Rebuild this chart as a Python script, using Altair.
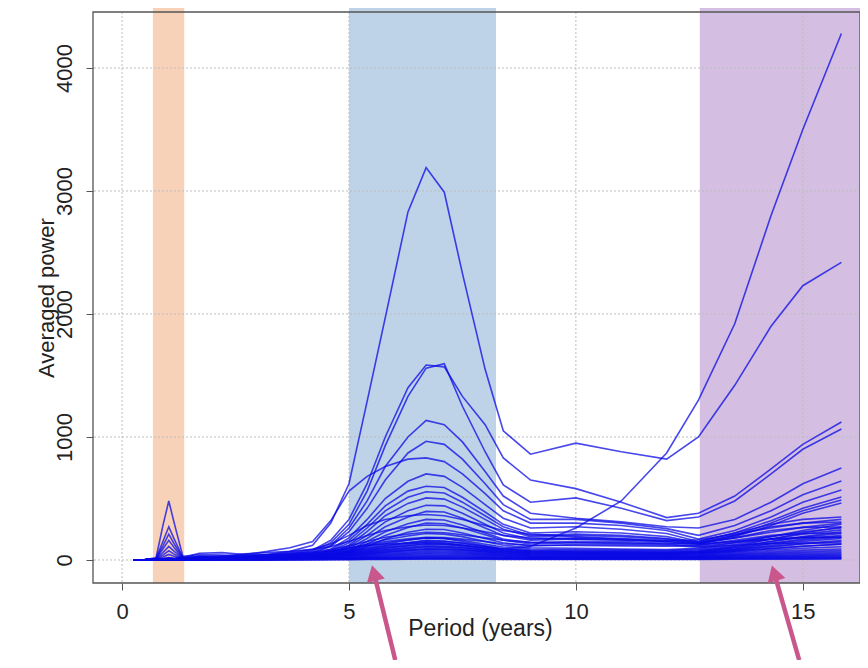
import altair as alt
import pandas as pd

# ---------------- data ----------------
PERIODS = [0.25, 0.5, 0.75, 0.9, 1.03, 1.15, 1.35, 1.7, 2.2, 2.7, 3.2, 3.7, 4.2, 4.6,
           5.0, 5.4, 5.8, 6.3, 6.7, 7.1, 7.5, 8.0, 8.4, 9.0, 10.0, 11.0, 12.0, 12.7,
           13.5, 14.3, 15.0, 15.85]

S01 = [0, 2, 8, 10, 12, 10, 8, 12, 20, 30, 45, 70, 120, 300, 620, 1290, 1970, 2830, 3190, 2990, 2330, 1550, 1050, 860, 950, 880, 820, 1000, 1420, 1900, 2230, 2420]
S02 = [0, 1, 4, 6, 8, 6, 5, 10, 15, 20, 30, 40, 55, 75, 100, 120, 130, 135, 140, 135, 120, 100, 90, 110, 260, 480, 870, 1300, 1920, 2800, 3500, 4280]
S03 = [0, 2, 5, 6, 8, 6, 5, 8, 15, 25, 35, 50, 80, 160, 330, 620, 1000, 1400, 1585, 1570, 1330, 1100, 830, 650, 580, 470, 345, 380, 520, 740, 940, 1122]
S04 = [0, 1, 3, 5, 6, 5, 4, 7, 12, 20, 30, 45, 70, 140, 290, 560, 930, 1330, 1560, 1595, 1250, 880, 610, 470, 505, 420, 320, 350, 480, 700, 900, 1065]
S05 = [0, 1, 3, 4, 5, 4, 4, 6, 10, 18, 25, 40, 60, 120, 260, 480, 760, 1000, 1135, 1100, 960, 720, 520, 380, 340, 310, 270, 260, 330, 470, 620, 748]
S06 = [0, 1, 2, 3, 4, 3, 3, 5, 9, 15, 22, 35, 55, 110, 230, 420, 650, 870, 965, 940, 820, 620, 450, 330, 330, 300, 255, 200, 280, 400, 530, 642]
S07 = [0, 2, 5, 8, 10, 8, 6, 12, 25, 45, 70, 100, 150, 320, 560, 680, 760, 820, 830, 800, 700, 540, 400, 300, 300, 280, 240, 170, 240, 350, 470, 569]
S08 = [0, 1, 2, 3, 4, 3, 3, 5, 8, 12, 18, 28, 45, 90, 180, 330, 500, 640, 700, 680, 590, 450, 340, 260, 270, 250, 215, 150, 220, 320, 420, 512]
S09 = [0, 1, 2, 2, 3, 2, 2, 4, 7, 10, 15, 24, 40, 80, 160, 290, 440, 560, 600, 590, 510, 390, 290, 220, 230, 220, 190, 140, 200, 300, 400, 488]
S10 = [0, 0, 1, 2, 3, 2, 2, 4, 6, 9, 14, 22, 36, 70, 140, 260, 400, 510, 555, 545, 470, 360, 270, 200, 210, 200, 175, 130, 190, 280, 380, 463]
S11 = [0, 0, 1, 2, 2, 2, 2, 3, 6, 8, 12, 20, 32, 60, 120, 230, 360, 460, 505, 495, 430, 330, 250, 190, 200, 190, 170, 150, 220, 290, 330, 350]
S12 = [0, 0, 1, 1, 2, 1, 1, 3, 5, 8, 11, 18, 28, 55, 110, 200, 310, 400, 445, 440, 380, 290, 220, 170, 180, 175, 160, 140, 200, 270, 300, 309]
S13 = [0, 0, 1, 1, 2, 1, 1, 3, 5, 7, 10, 16, 25, 48, 95, 175, 270, 350, 395, 390, 340, 260, 200, 160, 170, 165, 150, 130, 180, 240, 265, 268]
S14 = [0, 0, 0, 1, 1, 1, 1, 2, 4, 6, 9, 14, 22, 40, 80, 150, 230, 295, 330, 325, 285, 220, 170, 140, 150, 150, 140, 120, 160, 200, 215, 220]
S15 = [0, 0, 0, 1, 1, 1, 1, 2, 4, 6, 8, 12, 20, 36, 70, 130, 200, 265, 300, 295, 260, 205, 160, 130, 140, 140, 130, 110, 140, 170, 185, 187]
S16 = [0, 0, 0, 1, 1, 1, 1, 2, 3, 5, 7, 11, 18, 32, 60, 110, 170, 225, 250, 248, 220, 175, 140, 115, 125, 125, 120, 105, 120, 135, 138, 138]
S17 = [0, 1, 3, 5, 8, 6, 20, 55, 60, 45, 40, 60, 90, 130, 200, 280, 330, 360, 370, 360, 330, 280, 240, 210, 190, 170, 150, 130, 150, 170, 180, 185]

L01 = [0, 4, 18, 280, 480, 300, 14, 28, 24, 18, 22, 30, 40, 55, 75, 100, 130, 160, 180, 175, 150, 115, 90, 75, 70, 68, 62, 70, 110, 170, 220, 268]
L02 = [0, 3, 14, 150, 270, 170, 12, 25, 20, 16, 20, 26, 35, 48, 65, 90, 115, 140, 160, 155, 135, 105, 82, 70, 65, 60, 58, 65, 100, 150, 190, 230]
L03 = [0, 3, 12, 115, 210, 130, 10, 22, 18, 14, 18, 24, 32, 44, 60, 80, 105, 128, 145, 140, 122, 95, 75, 62, 58, 55, 52, 60, 90, 135, 170, 200]
L04 = [0, 2, 10, 90, 160, 100, 9, 20, 16, 12, 16, 22, 28, 40, 55, 72, 95, 115, 130, 126, 110, 85, 68, 56, 52, 50, 48, 55, 82, 120, 150, 175]
L05 = [0, 2, 8, 60, 110, 70, 8, 18, 14, 11, 14, 20, 26, 36, 50, 65, 85, 103, 118, 114, 100, 78, 62, 50, 47, 45, 44, 50, 75, 105, 130, 150]
L06 = [0, 2, 6, 40, 75, 48, 7, 15, 12, 10, 12, 18, 23, 32, 44, 58, 76, 92, 105, 102, 90, 70, 55, 45, 42, 40, 40, 45, 68, 92, 112, 128]
L07 = [0, 1, 5, 25, 45, 30, 6, 12, 10, 8, 10, 15, 20, 28, 38, 50, 66, 80, 92, 90, 80, 62, 50, 40, 38, 36, 36, 40, 60, 80, 95, 108]
L08 = [0, 1, 4, 12, 20, 14, 5, 10, 9, 7, 9, 13, 18, 25, 34, 44, 58, 70, 80, 78, 70, 55, 45, 36, 34, 33, 33, 36, 52, 68, 80, 90]
L09 = [0, 1, 3, 8, 12, 9, 4, 9, 8, 6, 8, 12, 16, 22, 30, 38, 50, 60, 70, 68, 62, 50, 40, 32, 30, 30, 30, 32, 45, 58, 68, 76]
L10 = [0, 1, 3, 6, 9, 7, 4, 8, 7, 6, 7, 10, 14, 19, 26, 33, 43, 52, 60, 58, 54, 44, 36, 29, 27, 27, 27, 29, 40, 50, 58, 64]
L11 = [0, 0, 2, 5, 7, 5, 3, 7, 6, 5, 6, 9, 12, 16, 22, 28, 36, 44, 50, 49, 46, 38, 32, 26, 24, 24, 24, 26, 34, 42, 48, 53]
L12 = [0, 0, 2, 4, 5, 4, 3, 6, 5, 4, 5, 8, 10, 14, 18, 23, 30, 36, 41, 40, 38, 32, 27, 22, 21, 21, 21, 22, 29, 35, 40, 44]
L13 = [0, 0, 1, 3, 4, 3, 2, 5, 4, 4, 4, 6, 8, 11, 15, 19, 24, 29, 33, 32, 31, 26, 22, 18, 17, 18, 18, 19, 24, 29, 33, 36]
L14 = [0, 0, 1, 2, 3, 2, 2, 4, 3, 3, 3, 5, 6, 9, 12, 15, 19, 23, 26, 25, 24, 21, 18, 15, 14, 15, 15, 16, 20, 24, 27, 29]
L15 = [0, 0, 1, 2, 2, 2, 2, 3, 3, 2, 3, 4, 5, 7, 9, 12, 15, 18, 20, 20, 19, 17, 14, 12, 11, 12, 12, 13, 16, 19, 21, 22]
L16 = [0, 0, 1, 1, 2, 1, 1, 2, 2, 2, 2, 3, 4, 5, 7, 9, 11, 13, 15, 15, 14, 13, 11, 9, 9, 9, 9, 10, 12, 14, 16, 17]
L17 = [0, 0, 0, 1, 1, 1, 1, 2, 2, 1, 2, 2, 3, 4, 5, 6, 8, 9, 10, 10, 10, 9, 8, 7, 6, 7, 7, 7, 9, 10, 11, 12]
L18 = [0, 0, 0, 1, 1, 1, 1, 1, 1, 1, 1, 2, 2, 3, 3, 4, 5, 6, 7, 7, 7, 6, 5, 5, 4, 5, 5, 5, 6, 7, 7, 8]
L19 = [0, 2, 6, 10, 14, 10, 30, 45, 40, 35, 38, 45, 55, 70, 95, 130, 165, 195, 215, 210, 190, 150, 120, 100, 95, 90, 85, 95, 140, 190, 240, 290]
L20 = [0, 1, 5, 9, 12, 9, 22, 35, 32, 28, 30, 36, 44, 58, 80, 110, 140, 165, 180, 176, 160, 128, 105, 90, 85, 82, 78, 88, 125, 170, 210, 245]
L21 = [0, 1, 4, 7, 10, 8, 16, 26, 24, 22, 24, 30, 38, 50, 68, 92, 118, 140, 155, 150, 138, 112, 92, 80, 78, 75, 72, 80, 112, 150, 185, 215]
L22 = [0, 1, 3, 6, 8, 6, 10, 18, 17, 16, 18, 23, 30, 40, 55, 76, 98, 118, 132, 128, 118, 96, 80, 70, 68, 66, 64, 72, 100, 132, 160, 185]
L23 = [0, 1, 3, 5, 7, 5, 8, 14, 13, 12, 14, 18, 24, 32, 45, 62, 80, 97, 110, 107, 99, 82, 68, 60, 58, 57, 56, 62, 86, 112, 135, 158]
L24 = [0, 0, 2, 4, 6, 4, 6, 11, 10, 9, 11, 14, 19, 26, 36, 50, 65, 80, 90, 88, 82, 68, 57, 50, 49, 48, 48, 53, 72, 94, 112, 130]

M01 = [0, 1, 4, 8, 12, 9, 6, 15, 30, 50, 60, 70, 85, 110, 150, 200, 240, 270, 285, 280, 260, 230, 200, 180, 170, 160, 155, 165, 210, 260, 300, 330]
M02 = [0, 1, 3, 6, 9, 7, 5, 12, 22, 35, 45, 55, 65, 85, 115, 150, 185, 210, 225, 222, 205, 180, 160, 145, 140, 135, 130, 140, 180, 225, 265, 300]
M03 = [0, 1, 3, 5, 8, 6, 5, 10, 18, 28, 36, 44, 52, 68, 90, 120, 150, 172, 185, 182, 170, 150, 132, 120, 118, 115, 112, 120, 150, 190, 230, 260]

SERIES = {
    "S01": S01, "S02": S02, "S03": S03, "S04": S04, "S05": S05, "S06": S06,
    "S07": S07, "S08": S08, "S09": S09, "S10": S10, "S11": S11, "S12": S12,
    "S13": S13, "S14": S14, "S15": S15, "S16": S16, "S17": S17,
    "L01": L01, "L02": L02, "L03": L03, "L04": L04, "L05": L05, "L06": L06,
    "L07": L07, "L08": L08, "L09": L09, "L10": L10, "L11": L11, "L12": L12,
    "L13": L13, "L14": L14, "L15": L15, "L16": L16, "L17": L17, "L18": L18,
    "L19": L19, "L20": L20, "L21": L21, "L22": L22, "L23": L23, "L24": L24,
    "M01": M01, "M02": M02, "M03": M03,
}

X_TICKS = [0, 5, 10, 15]
Y_TICKS = [0, 1000, 2000, 3000, 4000]
X_DOMAIN = [-0.64, 16.26]
Y_DOMAIN = [-187, 4455]

BAND_NAMES = ["annual", "mid", "long"]
BAND_START = [0.68, 5.0, 12.73]
BAND_END = [1.37, 8.24, 16.26]
BAND_TOP = 4496
BAND_COLORS = ["#f8d1b9", "#bed2e8", "#d4bfe2"]

ARROW_TAIL_X = [6.02, 14.92]
ARROW_TAIL_Y = [-813, -813]
ARROW_HEAD_X = [5.55, 14.37]
ARROW_HEAD_Y = [-106, -106]
ARROW_ANGLE = [346, 343]

# ---------------- tables ----------------
rows = []
for name, vals in SERIES.items():
    for p, v in zip(PERIODS, vals):
        rows.append({"series": name, "period": p, "power": v})
lines_df = pd.DataFrame(rows)

bands_df = pd.DataFrame({
    "band": BAND_NAMES, "start": BAND_START, "end": BAND_END,
    "bottom": [Y_DOMAIN[0]] * 3, "top": [BAND_TOP] * 3,
})
xgrid_df = pd.DataFrame({"period": X_TICKS})
ygrid_df = pd.DataFrame({"power": Y_TICKS})
frame_df = pd.DataFrame({"x0": [X_DOMAIN[0]], "x1": [X_DOMAIN[1]],
                         "y0": [Y_DOMAIN[0]], "y1": [Y_DOMAIN[1]]})
arrows_df = pd.DataFrame({"tx": ARROW_TAIL_X, "ty": ARROW_TAIL_Y,
                          "hx": ARROW_HEAD_X, "hy": ARROW_HEAD_Y,
                          "angle": ARROW_ANGLE})

FONT = "Liberation Sans"
xscale = alt.Scale(domain=X_DOMAIN, nice=False, zero=False)
yscale = alt.Scale(domain=Y_DOMAIN, nice=False, zero=False)

x_axis = alt.Axis(
    title="Period (years)", values=X_TICKS, format="d", grid=False, domain=False,
    ticks=True, tickSize=7, tickColor="#555555", tickWidth=1,
    labelFont=FONT, labelFontSize=22, labelColor="#222222",
    labelBaseline="alphabetic", labelPadding=28, labelFlush=False,
    titleFont=FONT, titleFontSize=23, titleFontWeight="normal", titleColor="#222222",
    titleX=387, titleY=52, titleBaseline="alphabetic", titleAlign="center",
)
y_axis = alt.Axis(
    title="Averaged power", values=Y_TICKS, format="d", grid=False, domain=False,
    ticks=True, tickSize=7, tickColor="#555555", tickWidth=1,
    labelFont=FONT, labelFontSize=22, labelColor="#222222",
    labelAngle=270, labelAlign="center", labelBaseline="alphabetic",
    labelPadding=15, labelFlush=False,
    titleFont=FONT, titleFontSize=22, titleFontWeight="normal", titleColor="#222222",
    titleAngle=270, titleX=-40, titleY=285.5, titleBaseline="alphabetic",
    titleAlign="center",
)

bands = alt.Chart(bands_df).mark_rect(opacity=1).encode(
    x=alt.X("start:Q", scale=xscale, axis=x_axis),
    x2="end:Q",
    y=alt.Y("bottom:Q", scale=yscale, axis=y_axis),
    y2="top:Q",
    color=alt.Color("band:N", scale=alt.Scale(domain=BAND_NAMES, range=BAND_COLORS), legend=None),
)

xgrid = alt.Chart(xgrid_df).mark_rule(color="#bdbdbd", strokeDash=[2, 2], strokeWidth=1).encode(
    x=alt.X("period:Q", scale=xscale, axis=x_axis)
)
ygrid = alt.Chart(ygrid_df).mark_rule(color="#bdbdbd", strokeDash=[2, 2], strokeWidth=1).encode(
    y=alt.Y("power:Q", scale=yscale, axis=y_axis)
)

lines = alt.Chart(lines_df).mark_line(color="#0a0ae6", opacity=0.75, strokeWidth=1.6).encode(
    x=alt.X("period:Q", scale=xscale, axis=x_axis),
    y=alt.Y("power:Q", scale=yscale, axis=y_axis),
    detail="series:N",
)

frame = alt.Chart(frame_df).mark_rect(fillOpacity=0, stroke="#555555", strokeWidth=1.3).encode(
    x=alt.X("x0:Q", scale=xscale, axis=x_axis), x2="x1:Q",
    y=alt.Y("y0:Q", scale=yscale, axis=y_axis), y2="y1:Q",
)

arrow_shaft = alt.Chart(arrows_df).mark_rule(color="#c9578b", strokeWidth=4.5).encode(
    x=alt.X("tx:Q", scale=xscale, axis=x_axis), x2="hx:Q",
    y=alt.Y("ty:Q", scale=yscale, axis=y_axis), y2="hy:Q",
)
arrow_head = alt.Chart(arrows_df).mark_point(
    shape="triangle-up", filled=True, size=340, color="#c9578b", opacity=1
).encode(
    x=alt.X("hx:Q", scale=xscale, axis=x_axis),
    y=alt.Y("hy:Q", scale=yscale, axis=y_axis),
    angle=alt.Angle("angle:Q", scale=None),
)

chart = alt.layer(bands, xgrid, ygrid, lines, frame, arrow_shaft, arrow_head).properties(
    width=767, height=571,
    autosize=alt.AutoSizeParams(type="none"),
    padding={"left": 85, "top": 4, "right": 0, "bottom": 77},
    background="white",
).configure_view(strokeWidth=0)

chart.save("out.html", embed_options={"renderer": "svg", "actions": False})
